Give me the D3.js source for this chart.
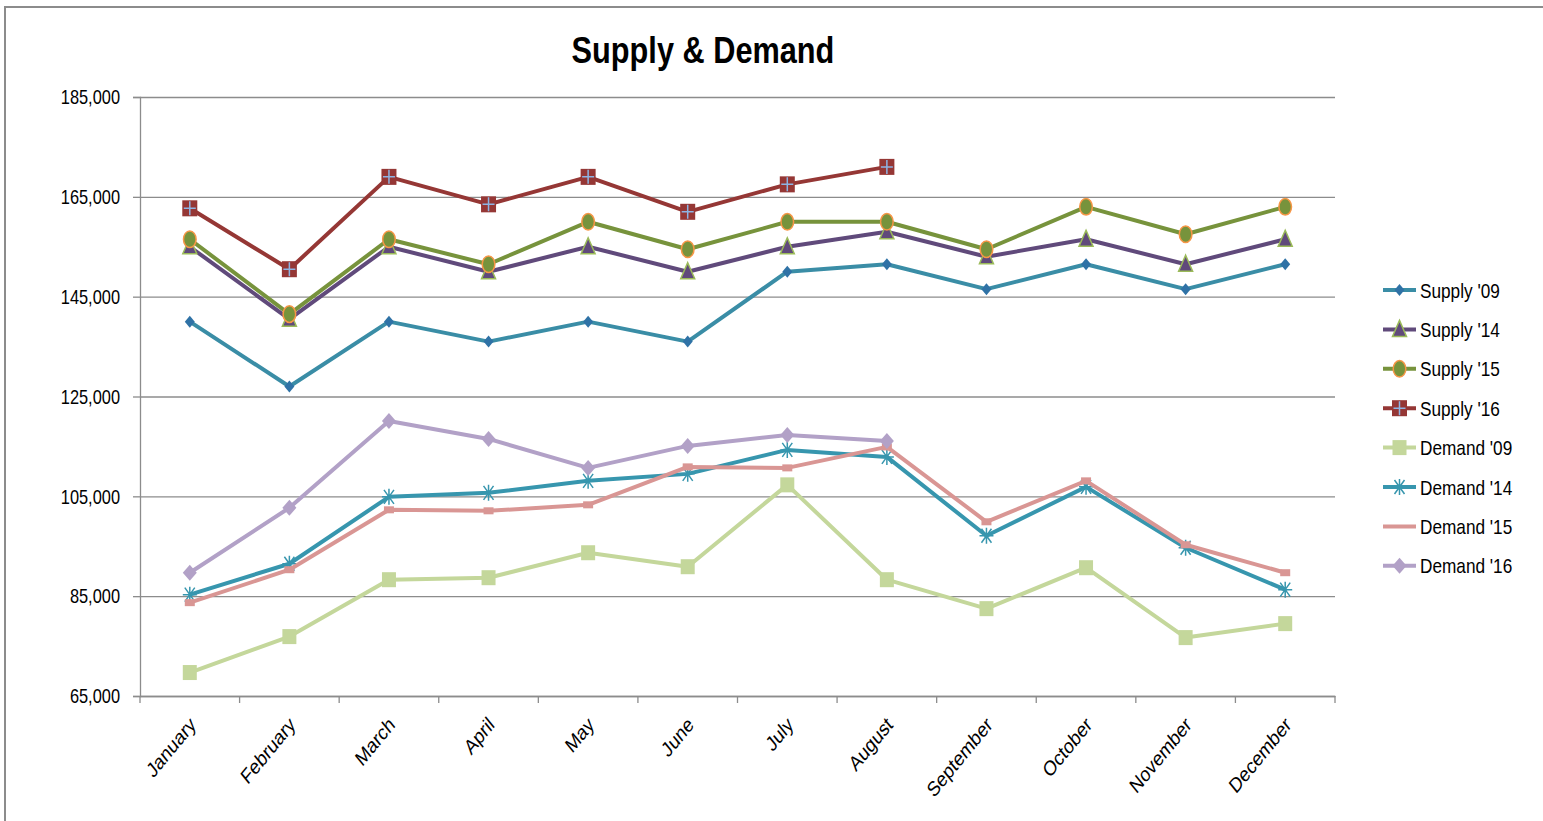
<!DOCTYPE html>
<html><head><meta charset="utf-8">
<script src="https://cdn.jsdelivr.net/npm/d3@7"></script>
<style>
html,body{margin:0;padding:0;background:#fff;}
svg{display:block;}
text{font-family:"Liberation Sans Narrow","Arial Narrow","Liberation Sans",Arial,sans-serif;fill:#000;}
</style></head>
<body>
<svg id="c" width="1543" height="821"></svg>
<script>
const months = ["January","February","March","April","May","June","July","August","September","October","November","December"];
const yTicks = [65000, 85000, 105000, 125000, 145000, 165000, 185000];
const seriesNames = ["Supply '09","Supply '14","Supply '15","Supply '16","Demand '09","Demand '14","Demand '15","Demand '16"];
const supply09 = [140000,127000,140000,136000,140000,136000,150000,151500,146500,151500,146500,151500];
const supply14 = [155000,140500,155000,150000,155000,150000,155000,158000,153000,156500,151500,156500];
const supply15 = [156500,141500,156500,151500,160000,154500,160000,160000,154500,163000,157500,163000];
const supply16 = [162700,150500,169000,163500,169000,162000,167500,171000,null,null,null,null];
const demand09 = [69700,76900,88300,88700,93700,90900,107300,88300,82500,90700,76700,79500];
const demand14 = [85300,91500,104900,105700,108100,109500,114300,112900,97100,106900,94700,86300];
const demand15 = [83700,90300,102300,102100,103300,110900,110700,114900,99900,108100,95300,89700];
const demand16 = [89700,102700,120100,116500,110700,115100,117300,116100,null,null,null,null];

const seriesValues = [supply09,supply14,supply15,supply16,demand09,demand14,demand15,demand16];
const styles = [
  {line:"#3A8DA6", marker:"diamondS", fill:"#2F72A6", stroke:"none"},
  {line:"#604A7B", marker:"triangle", fill:"#604A7B", stroke:"#9BBB59"},
  {line:"#77933C", marker:"ellipse", fill:"#77933C", stroke:"#F79646"},
  {line:"#953735", marker:"squarePlus", fill:"#953735", stroke:"#8EB4E3"},
  {line:"#C4D79B", marker:"square", fill:"#C4D79B", stroke:"none"},
  {line:"#3796AE", marker:"asterisk", fill:"none", stroke:"#3796AE"},
  {line:"#D99694", marker:"dash", fill:"#D99694", stroke:"none"},
  {line:"#B2A1C7", marker:"diamondL", fill:"#B2A1C7", stroke:"none"}
];
const SX = 0.82; // horizontal squeeze of the original picture

const svg = d3.select("#c");
svg.append("rect").attr("x",5).attr("y",7).attr("width",1560).attr("height",840)
  .attr("fill","#fff").attr("stroke","#8c8c8c").attr("stroke-width",2);

const L=140, R=1335, T=97, B=696;
const x = d3.scaleBand().domain(months).range([L,R]).padding(0);
const y = d3.scaleLinear().domain([65000,185000]).range([B,T]);
const cx = d => x(d)+x.bandwidth()/2;

const grid = svg.append("g").attr("transform",`translate(${L},0)`)
  .call(d3.axisLeft(y).tickValues(yTicks).tickSize(-(R-L)).tickFormat(""));
grid.select(".domain").remove();
grid.selectAll("line").attr("stroke","#8c8c8c").attr("stroke-width",1.3);

const ya = svg.append("g").attr("transform",`translate(${L},0)`)
  .call(d3.axisLeft(y).tickValues(yTicks).tickSize(7).tickFormat(d3.format(",")));
ya.select(".domain").attr("stroke","#8c8c8c").attr("stroke-width",1.3);
ya.selectAll("line").attr("stroke","#8c8c8c").attr("stroke-width",1.3);
ya.selectAll("text").attr("font-size",20).attr("x",0).attr("dy","0.34em")
  .attr("transform",`translate(-20,0) scale(${SX},1)`);

const xa = svg.append("g").attr("transform",`translate(0,${B})`)
  .call(d3.axisBottom(x).tickSize(0).tickPadding(0));
xa.select(".domain").attr("stroke","#8c8c8c").attr("stroke-width",1.3);
xa.selectAll("text").attr("font-size",21).attr("x",0).attr("y",0).attr("dy",0)
  .attr("text-anchor","end")
  .attr("transform",`translate(7,30) scale(${SX},1) rotate(-45)`);
const bounds = months.map(m=>x(m)).concat([R]);
svg.append("g").selectAll("line").data(bounds).join("line")
  .attr("x1",d=>d).attr("x2",d=>d).attr("y1",B).attr("y2",B+7)
  .attr("stroke","#8c8c8c").attr("stroke-width",1.3);

svg.append("text").attr("transform",`translate(703,63) scale(${SX+0.01},1)`).attr("text-anchor","middle")
  .attr("font-size",37).attr("font-weight","bold").text("Supply & Demand");

function drawMarker(g, type, st, px, py){
  if(type==="diamondS"){
    g.append("path").attr("d",`M${px},${py-6}L${px+5},${py}L${px},${py+6}L${px-5},${py}Z`).attr("fill",st.fill);
  } else if(type==="diamondL"){
    g.append("path").attr("d",`M${px},${py-8}L${px+7},${py}L${px},${py+8}L${px-7},${py}Z`).attr("fill",st.fill);
  } else if(type==="triangle"){
    g.append("path").attr("d",`M${px},${py-9}L${px+7},${py+7}L${px-7},${py+7}Z`)
      .attr("fill",st.fill).attr("stroke",st.stroke).attr("stroke-width",1.5);
  } else if(type==="ellipse"){
    g.append("ellipse").attr("cx",px).attr("cy",py).attr("rx",6.3).attr("ry",8.3)
      .attr("fill",st.fill).attr("stroke",st.stroke).attr("stroke-width",1.5);
  } else if(type==="squarePlus"){
    g.append("rect").attr("x",px-7.5).attr("y",py-8).attr("width",15).attr("height",16).attr("fill",st.fill);
    g.append("path").attr("d",`M${px-6},${py}H${px+6}M${px},${py-7}V${py+7}`)
      .attr("stroke",st.stroke).attr("stroke-width",1.5);
  } else if(type==="square"){
    g.append("rect").attr("x",px-7).attr("y",py-7.5).attr("width",14).attr("height",15).attr("fill",st.fill);
  } else if(type==="dash"){
    g.append("rect").attr("x",px-5).attr("y",py-3.5).attr("width",10).attr("height",7).attr("fill",st.fill);
  } else if(type==="asterisk"){
    g.append("path").attr("d",`M${px-7},${py}H${px+7}M${px-5},${py-7}L${px+5},${py+7}M${px+5},${py-7}L${px-5},${py+7}M${px},${py-8}V${py+8}`)
      .attr("stroke",st.stroke).attr("stroke-width",1.5).attr("fill","none");
  }
}

const line = d3.line().defined(d=>d.v!=null).x(d=>cx(d.m)).y(d=>y(d.v));
seriesValues.forEach((vals,i)=>{
  const st = styles[i];
  const pts = months.map((m,j)=>({m, v: vals[j]}));
  const g = svg.append("g");
  g.append("path").datum(pts).attr("d",line).attr("fill","none")
    .attr("stroke",st.line).attr("stroke-width",4).attr("stroke-linejoin","round");
  pts.filter(p=>p.v!=null).forEach(p=>drawMarker(g, st.marker, st, cx(p.m), y(p.v)));
});

const lg = svg.append("g");
seriesNames.forEach((n,i)=>{
  const st = styles[i];
  const ly = 290 + i*39.4;
  const g = lg.append("g");
  g.append("line").attr("x1",1383).attr("x2",1416).attr("y1",ly).attr("y2",ly)
    .attr("stroke",st.line).attr("stroke-width",4);
  if(st.marker!=="dash") drawMarker(g, st.marker, st, 1399.5, ly);
  g.append("text").attr("transform",`translate(1420,${ly}) scale(${SX},1)`).attr("dy","0.36em")
    .attr("font-size",21).text(n);
});
</script>
</body></html>
